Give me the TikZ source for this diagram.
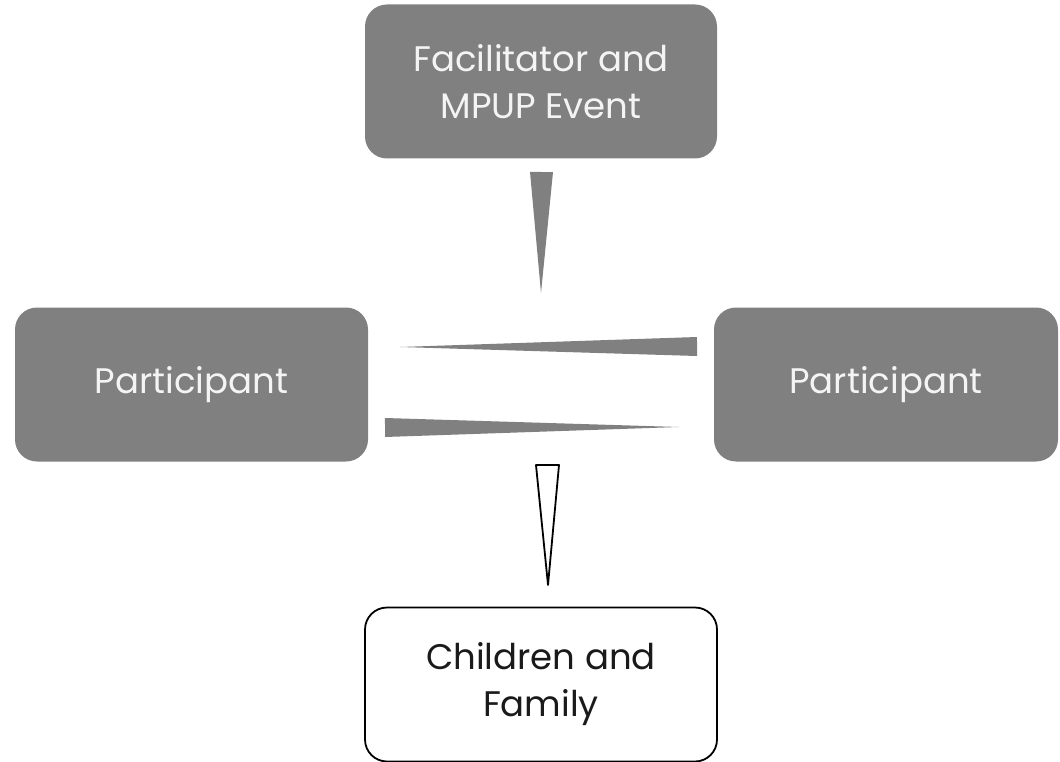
\documentclass[tikz,border=0pt]{standalone}
\usepackage{fontspec}
\setmainfont{Poppins}
\usepackage{tikz}
\usetikzlibrary{calc}
\definecolor{boxgray}{HTML}{808080}
\definecolor{boxtext}{HTML}{F4F4F4}
\definecolor{darktext}{HTML}{1A1A1A}
\tikzset{
  graybox/.style={rounded corners=22pt, fill=boxgray, text=boxtext, align=center,
    minimum width=352pt, minimum height=154pt, inner sep=0pt,
    font=\fontsize{35.5}{47}\selectfont},
  whitebox/.style={graybox, fill=white, draw=black, line width=1.8pt, text=darktext},
  wedgearrow/.style={fill=boxgray, to path={
    ($(\tikztostart)!#1!90:(\tikztotarget)$) -- ($(\tikztostart)!#1!-90:(\tikztotarget)$)
    -- (\tikztotarget) -- cycle}},
  wedgearrow/.default=10pt
}
\begin{document}
\begin{tikzpicture}[x=1pt, y=-1pt]
        \useasboundingbox (0,0) rectangle (1060,762);

        % Boxes
        \node[graybox] (event) at (541,81.5) {Facilitator and\\MPUP Event};
        \node[graybox, minimum width=353pt] (left) at (191.5,384.5) {Participant};
        \node[graybox, minimum width=344pt] (right) at (886,384.5) {Participant};
        \node[whitebox] (family) at (541,684.5) {Children and\\Family};

        % Wedge ends
        \coordinate (evbase) at (541.5,172);
        \coordinate (evtip) at (541,293);
        \coordinate (rbase) at (697,346.5);
        \coordinate (rtip) at (400,347);
        \coordinate (lbase) at (385,427.5);
        \coordinate (ltip) at (679,427);
        \coordinate (fbase) at (547.5,465);
        \coordinate (ftip) at (548,585);

        % Connections
        \path[wedgearrow=11.5pt] (evbase) to (evtip);
        \path[wedgearrow=9.5pt] (rbase) to (rtip);
        \path[wedgearrow=9.5pt] (lbase) to (ltip);
        \draw[wedgearrow=11.5pt, fill=white, line width=1.8pt, line join=round] (fbase) to (ftip);

\end{tikzpicture}
\end{document}
